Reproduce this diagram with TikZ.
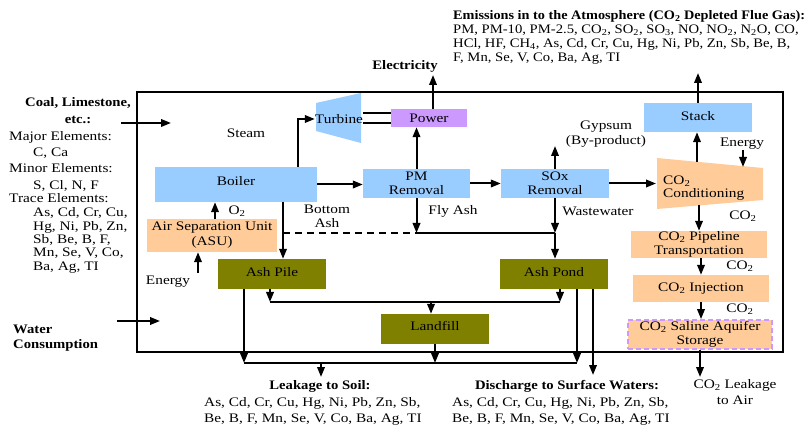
\documentclass[tikz,border=0pt]{standalone}
\usepackage{fontspec}
\setmainfont{Liberation Serif}[FakeStretch=1.18]
\newfontfamily\hdfont{Liberation Serif}[FakeStretch=1.13]
\usetikzlibrary{arrows.meta}
\definecolor{lblue}{HTML}{99CCFF}
\definecolor{lorange}{HTML}{FFCC99}
\definecolor{lpurple}{HTML}{CC99FF}
\definecolor{olivebox}{HTML}{808000}
\newcommand{\cotwo}{CO\textsubscript{2}}
\begin{document}
\begin{tikzpicture}[x=1pt,y=-1pt,
  font=\fontsize{13}{13.5}\selectfont,
  box/.style={rectangle, inner sep=0pt, align=center},
  bfont/.style={font=\fontsize{13}{13.5}\selectfont\hdfont\bfseries},
  arr/.style={line width=2pt, -{Triangle[length=10pt,width=7.5pt]}},
  ln/.style={line width=2pt},
  txt/.style={inner sep=0pt, anchor=base west},
  btxt/.style={inner sep=0pt, anchor=base west, bfont},
  btxtc/.style={inner sep=0pt, anchor=base, bfont},
  blue/.style={box, fill=lblue},
  orange/.style={box, fill=lorange},
  olive/.style={box, fill=olivebox, minimum width=108pt, minimum height=30pt},
  ]
\useasboundingbox (0,0) rectangle (805,427);

% frame
\draw[line width=1.3pt] (137,92) rectangle (783,352);

% process boxes
\node[blue, minimum width=162pt, minimum height=35pt] (boiler) at (236,184.5) {\raisebox{7pt}{Boiler}};
\fill[lblue] (316,103) -- (361,93) -- (361,143) -- (316,131) -- cycle;
\node[box] (turbine) at (339,119) {Turbine};
\node[box, fill=lpurple, minimum width=76pt, minimum height=18pt] (power) at (429,118) {Power};
\node[blue, minimum width=107pt, minimum height=29pt] (pm) at (416.5,183.5) {PM\\Removal};
\node[blue, minimum width=108pt, minimum height=29pt] (sox) at (555,183.5) {SOx\\Removal};
\node[blue, minimum width=108pt, minimum height=29pt] (stack) at (698,117.5) {\raisebox{4pt}{Stack}};
\fill[lorange] (657,158) -- (763,168) -- (763,200) -- (657,209) -- cycle;
\node[box, align=left, anchor=west] (cond) at (663,188) {\cotwo\\Conditioning};
\node[orange, minimum width=136pt, minimum height=27pt] (pipe) at (699,244.5) {\cotwo{} Pipeline\\Transportation};
\node[orange, minimum width=136pt, minimum height=27pt] (inj) at (701,288.5) {\cotwo{} Injection};
\node[orange, draw=lpurple, line width=1.8pt, dash pattern=on 5pt off 3pt, minimum width=144pt, minimum height=29pt] (stor) at (700,334.5) {\cotwo{} Saline Aquifer\\Storage};
\node[orange, minimum width=130pt, minimum height=33pt] (asu) at (212,235.5) {Air Separation Unit\\[1.5pt](ASU)};
\node[olive] (ashpile) at (272,274) {\raisebox{5pt}{Ash Pile}};
\node[olive] (ashpond) at (554,274) {\raisebox{5pt}{Ash Pond}};
\node[olive] (landfill) at (435,329) {\raisebox{6pt}{Landfill}};

% labels
\node[box] (steam) at (246,133) {Steam};
\node[box] (o2) at (237,211) {O\textsubscript{2}};
\node[box] (bash) at (327,216.5) {Bottom\\Ash};
\node[box] (flyash) at (453,211) {Fly Ash};
\node[box] (wastew) at (598,211) {Wastewater};
\node[box] (gyp) at (606,134) {Gypsum\\[2pt](By-product)};
\node[box] (en1) at (168,282) {Energy};
\node[box] (en2) at (742,144) {Energy};
\node[box, bfont] (elec) at (405,66) {Electricity};
\node[box] (co2a) at (743,216) {\cotwo};
\node[box] (co2b) at (740,266) {\cotwo};
\node[box] (co2c) at (740,309) {\cotwo};
\node[box] (leak) at (735,392) {\cotwo{} Leakage\\[2pt]to Air};

% coordinates for free ends and offsets
\coordinate (steamx) at (298,0);
\coordinate (electip) at (433,75);
\coordinate (gyptip) at (555,146);
\coordinate (condin) at (656,183.5);
\coordinate (condtop) at (697,162);
\coordinate (condbot) at (699,205);
\coordinate (stacktip) at (698,73);
\coordinate (en2tip) at (743,167);
\coordinate (leaktip) at (700,377);
\coordinate (o2x) at (215,0);
\coordinate (enbase) at (198,273);
\coordinate (bax) at (283,0);
\coordinate (jd) at (283,233);
\coordinate (j1) at (270,302);
\coordinate (j2) at (560,302);
\coordinate (lfx) at (431,0);
\coordinate (k1) at (244,363);
\coordinate (k2) at (577,363);
\coordinate (soil) at (321,377);
\coordinate (surf) at (593,375);
\coordinate (coalin) at (121,123);
\coordinate (coaltip) at (171,123);
\coordinate (waterin) at (117,321);
\coordinate (watertip) at (160,321);

% connectors
\draw[arr] (boiler.north -| steamx) |- (turbine.west);
\draw[ln] ([yshift=5pt]power.west) -- ([yshift=5pt]power.west -| turbine.east);
\draw[ln] ([yshift=-5pt]power.west) -- ([yshift=-5pt]power.west -| turbine.east);
\draw[arr] (power.north -| electip) -- (electip);
\draw[arr] (boiler.east) -- (boiler.east -| pm.west);
\draw[arr] (pm.north) -- (power.south -| pm.north);
\draw[arr] (pm.east) -- (sox.west);
\draw[arr] (sox.north) -- (gyptip);
\draw[arr] (sox.east) -- (condin);
\draw[arr] (condtop) -- (condtop |- stack.south);
\draw[arr] (stack.north) -- (stacktip);
\draw[arr] (en2tip |- en2.south) -- (en2tip);
\draw[arr] (condbot) -- (condbot |- pipe.north);
\draw[arr] (pipe.south -| inj.north) -- (inj.north);
\draw[arr] (inj.south) -- (inj.south |- stor.north);
\draw[arr] (stor.south) -- (leaktip);
\draw[arr] (asu.north -| o2x) -- (boiler.south -| o2x);
\draw[arr] (enbase) -- (enbase |- asu.south);
\draw[arr] (boiler.south -| bax) -- (ashpile.north -| bax);
\draw[ln, dash pattern=on 7pt off 5pt] (jd) -- (jd -| pm.south);
\draw[arr] (pm.south) -- (pm.south |- jd);
\draw[ln] (pm.south |- jd) -- (sox.south |- jd);
\draw[arr] (sox.south) -- (sox.south |- jd);
\draw[arr] (sox.south |- jd) -- (sox.south |- ashpond.north);
\draw[arr] (ashpile.south -| j1) -- (j1);
\draw[arr] (ashpond.south -| j2) -- (j2);
\draw[ln] (j1) -- (j2);
\draw[arr] (j1 -| lfx) -- (landfill.north -| lfx);
\draw[arr] (ashpile.south -| k1) -- (k1);
\draw[arr] (ashpond.south -| k2) -- (k2);
\draw[arr] (landfill.south) -- (landfill.south |- k1);
\draw[ln] (k1) -- (k2);
\draw[arr] (soil |- k1) -- (soil);
\draw[arr] (ashpond.south -| surf) -- (surf);
\draw[arr] (coalin) -- (coaltip);
\draw[arr] (waterin) -- (watertip);

% left texts
\node[btxtc] (coal1) at (78,107) {Coal, Limestone,};
\node[btxtc] (coal2) at (78,124) {etc.:};
\node[txt] (l1) at (9,141) {Major Elements:};
\node[txt] (l2) at (33,157) {C, Ca};
\node[txt] (l3) at (9,173) {Minor Elements:};
\node[txt] (l4) at (33,190) {S, Cl, N, F};
\node[txt] (l5) at (9,203) {Trace Elements:};
\node[txt] (l6) at (33,217) {As, Cd, Cr, Cu,};
\node[txt] (l7) at (33,231) {Hg, Ni, Pb, Zn,};
\node[txt] (l8) at (33,244) {Sb, Be, B, F,};
\node[txt] (l9) at (33,257) {Mn, Se, V, Co,};
\node[txt] (l10) at (33,271) {Ba, Ag, TI};
\node[btxt] (w1) at (13,334) {Water};
\node[btxt] (w2) at (13,348) {Consumption};

% emissions
\node[btxt] (em0) at (453,20) {\scalebox{0.97}[1]{Emissions in to the Atmosphere (\cotwo{} Depleted Flue Gas):}};
\node[txt] (em1) at (453,34) {\scalebox{0.955}[1]{PM, PM-10, PM-2.5, \cotwo, SO\textsubscript{2}, SO\textsubscript{3}, NO, NO\textsubscript{2}, N\textsubscript{2}O, CO,}};
\node[txt] (em2) at (453,48) {\scalebox{0.955}[1]{HCl, HF, CH\textsubscript{4}, As, Cd, Cr, Cu, Hg, Ni, Pb, Zn, Sb, Be, B,}};
\node[txt] (em3) at (453,62) {\scalebox{0.955}[1]{F, Mn, Se, V, Co, Ba, Ag, TI}};

% bottom texts
\node[btxtc] (ls0) at (320,389) {Leakage to Soil:};
\node[txt] (ls1) at (204,406) {As, Cd, Cr, Cu, Hg, Ni, Pb, Zn, Sb,};
\node[txt] (ls2) at (204,422) {Be, B, F, Mn, Se, V, Co, Ba, Ag, TI};
\node[btxtc] (ds0) at (567,389) {Discharge to Surface Waters:};
\node[txt] (ds1) at (452,406) {As, Cd, Cr, Cu, Hg, Ni, Pb, Zn, Sb,};
\node[txt] (ds2) at (452,422) {Be, B, F, Mn, Se, V, Co, Ba, Ag, TI};
\end{tikzpicture}
\end{document}
